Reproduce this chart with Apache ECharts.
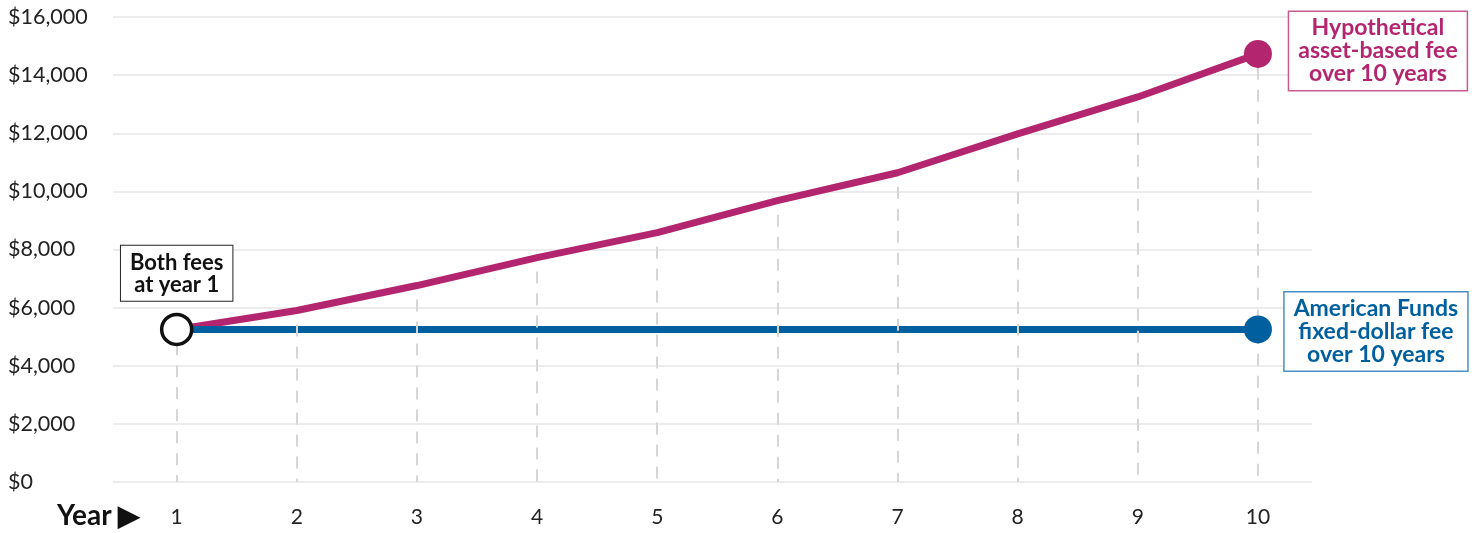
<!DOCTYPE html>
<html>
<head>
<meta charset="UTF-8">
<script src="https://cdn.jsdelivr.net/npm/echarts@6/dist/echarts.min.js"></script>
<title>Fees over 10 years</title>
<style>
  html, body { margin: 0; padding: 0; background: #fff; }
  #chart { width: 1483px; height: 533px; }
</style>
</head>
<body>
<div id="chart"></div>
<script type="text/javascript">
// data
var years     = [1, 2, 3, 4, 5, 6, 7, 8, 9, 10];
var assetFee  = [5250, 5900, 6760, 7720, 8580, 9680, 10640, 11980, 13250, 14730];
var fixedFee  = [5250, 5250, 5250, 5250, 5250, 5250, 5250, 5250, 5250, 5250];
var yTicks    = [0, 2000, 4000, 6000, 8000, 10000, 12000, 14000, 16000];

var pink = '#b3266f';
var blue = '#005f9e';
var font = 'Lato';

function pairs(vals) {
  return years.map(function (y, i) { return [y, vals[i]]; });
}

// dashed drop lines, start a little under the pink line
var drops = years.map(function (y, i) {
  return [{ coord: [y, assetFee[i] - 480] }, { coord: [y, 0] }];
});

var chart = echarts.init(document.getElementById('chart'));
chart.setOption({
  animation: false,
  textStyle: { fontFamily: font },
  grid: { left: 113, right: 171, top: 17, bottom: 51 },
  xAxis: {
    type: 'value',
    min: 0.47,
    max: 10.45,
    axisLine: { show: false },
    axisTick: { show: false },
    splitLine: { show: false },
    axisLabel: {
      customValues: years,
      margin: 25,
      fontSize: 21,
      color: '#222',
      fontFamily: font
    }
  },
  yAxis: {
    type: 'value',
    min: yTicks[0],
    max: yTicks[yTicks.length - 1],
    interval: 2000,
    axisLine: { show: false },
    axisTick: { show: false },
    splitLine: { lineStyle: { color: '#e6e6e6', width: 1.5 } },
    axisLabel: {
      align: 'left',
      margin: 105,
      fontSize: 21.5,
      color: '#222',
      fontFamily: font,
      formatter: function (v) { return '$' + v.toLocaleString('en-US'); }
    }
  },
  graphic: [{
    type: 'text',
    left: 57,
    top: 502,
    style: {
      text: 'Year \u25B6',
      fontFamily: font,
      fontWeight: 'bold',
      fontSize: 28,
      fill: '#111'
    }
  }],
  series: [
    {
      // holder for the dashed drop lines
      type: 'line',
      data: [],
      z: 1,
      silent: true,
      markLine: {
        silent: true,
        symbol: 'none',
        label: { show: false },
        lineStyle: { color: '#d6d6d6', type: [12, 10], width: 2 },
        data: drops
      }
    },
    {
      name: 'Hypothetical asset-based fee',
      type: 'line',
      data: pairs(assetFee),
      showSymbol: false,
      z: 3,
      lineStyle: { color: pink, width: 7 }
    },
    {
      name: 'American Funds fixed-dollar fee',
      type: 'line',
      data: pairs(fixedFee),
      showSymbol: false,
      z: 4,
      lineStyle: { color: blue, width: 7 }
    },
    {
      type: 'scatter',
      z: 5,
      symbolSize: 28,
      data: [[years[9], assetFee[9]]],
      itemStyle: { color: pink, opacity: 1 },
      label: {
        show: true,
        position: 'right',
        distance: 0,
        align: 'center',
        offset: [106, -3],
        formatter: 'Hypothetical\nasset-based fee\nover 10 years',
        fontFamily: font,
        fontWeight: 'bold',
        fontSize: 23,
        lineHeight: 23,
        color: pink,
        backgroundColor: '#fff',
        borderColor: '#c85a92',
        borderWidth: 1.5,
        padding: [5, 9, 4, 9]
      }
    },
    {
      type: 'scatter',
      z: 5,
      symbolSize: 28,
      data: [[years[9], fixedFee[9]]],
      itemStyle: { color: blue, opacity: 1 },
      label: {
        show: true,
        position: 'right',
        distance: 0,
        align: 'center',
        offset: [104, 2],
        formatter: 'American Funds\nfixed-dollar fee\nover 10 years',
        fontFamily: font,
        fontWeight: 'bold',
        fontSize: 23,
        lineHeight: 23,
        color: blue,
        backgroundColor: '#fff',
        borderColor: '#4a8fc4',
        borderWidth: 1.5,
        padding: [5, 9, 4, 9]
      }
    },
    {
      type: 'scatter',
      z: 6,
      symbolSize: 30,
      data: [[years[0], assetFee[0]]],
      itemStyle: { color: '#fff', borderColor: '#111', borderWidth: 3.5, opacity: 1 },
      label: {
        show: true,
        position: 'top',
        distance: 12,
        formatter: 'Both fees\nat year 1',
        fontFamily: font,
        fontWeight: 'bold',
        fontSize: 22,
        lineHeight: 22,
        color: '#111',
        backgroundColor: '#fff',
        borderColor: '#222',
        borderWidth: 1,
        padding: [6, 9, 5, 9]
      }
    }
  ]
});
</script>
</body>
</html>
